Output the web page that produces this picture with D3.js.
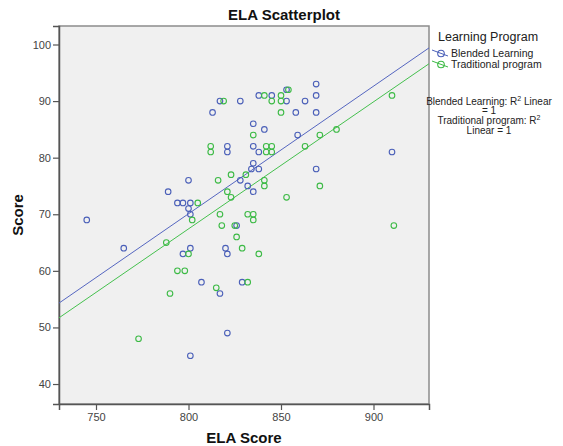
<!DOCTYPE html>
<html>
<head>
<meta charset="utf-8">
<script src="https://cdn.jsdelivr.net/npm/d3@7"></script>
<style>
  html, body { margin: 0; padding: 0; background: #fff; }
  svg { display: block; font-family: "Liberation Sans", Arial, sans-serif; }
</style>
</head>
<body>
<svg id="chart" width="563" height="446"></svg>
<script>
// ---- data ----
const blendedELA   = [817, 828, 813, 821, 821, 800, 789, 828, 832, 794, 797, 801, 800, 801, 826, 820, 821, 807, 829, 817, 821, 801, 745, 765, 838, 845, 853, 853, 863, 869, 869, 858, 869, 835, 841, 859, 835, 838, 835, 834, 838, 835, 869, 910, 797, 801];
const blendedScore = [90, 90, 88, 82, 81, 76, 74, 76, 75, 72, 72, 72, 71, 70, 68, 64, 63, 58, 58, 56, 49, 45, 69, 64, 91, 91, 90, 92, 90, 91, 93, 88, 88, 86, 85, 84, 82, 81, 79, 78, 78, 74, 78, 81, 63, 64];

const tradELA   = [819, 812, 812, 816, 823, 831, 821, 823, 805, 802, 817, 832, 835, 835, 818, 825, 826, 788, 829, 838, 794, 798, 832, 815, 790, 773, 841, 850, 845, 850, 854, 850, 910, 835, 871, 880, 842, 845, 842, 845, 863, 841, 841, 871, 853, 911, 800];
const tradScore = [90, 82, 81, 76, 77, 77, 74, 73, 72, 69, 70, 70, 70, 69, 68, 68, 66, 65, 64, 63, 60, 60, 58, 57, 56, 48, 91, 91, 90, 90, 92, 88, 91, 84, 84, 85, 82, 82, 81, 81, 82, 76, 75, 75, 73, 68, 63];

// fit lines: score at ELA = 730 and ELA = 930
const fitX       = [730, 930];
const blendedFit = [54.3, 99.4];
const tradFit    = [51.7, 96.6];

const xTicks = [750, 800, 850, 900];
const yTicks = [40, 50, 60, 70, 80, 90, 100];

const seriesNames = ["Blended Learning", "Traditional program"];
const seriesColors = ["#4a5fb8", "#3cba45"];

// ---- layout ----
const svg = d3.select("#chart");
const L = 59, R = 429, T = 26, B = 404;

const x = d3.scaleLinear().domain([730, 930]).range([L, R]);
const y = d3.scaleLinear().domain([36.47, 103.27]).range([B, T]);

// plot background
svg.append("rect")
  .attr("x", L).attr("y", T).attr("width", R - L).attr("height", B - T)
  .attr("fill", "#f0f0f0").attr("stroke", "#8c8c8c").attr("stroke-width", 1.5);

svg.append("defs").append("clipPath").attr("id", "clip")
  .append("rect").attr("x", L).attr("y", T).attr("width", R - L).attr("height", B - T);

// axes
const xAxis = svg.append("g").attr("transform", `translate(0,${B})`)
  .call(d3.axisBottom(x).tickValues(xTicks).tickSize(6).tickPadding(3).tickFormat(d3.format("d")));
const yAxis = svg.append("g").attr("transform", `translate(${L},0)`)
  .call(d3.axisLeft(y).tickValues(yTicks).tickSize(6).tickPadding(2).tickFormat(d3.format("d")));
[xAxis, yAxis].forEach(g => {
  g.select(".domain").attr("stroke", "#555").attr("stroke-width", 1.5);
  g.selectAll(".tick line").attr("stroke", "#555").attr("stroke-width", 1.2);
  g.selectAll(".tick text").attr("fill", "#444").attr("font-size", 11)
    .attr("font-family", "'Liberation Sans', Arial, sans-serif");
});

// fit lines
const plot = svg.append("g").attr("clip-path", "url(#clip)");
const line = d3.line().x(d => x(d[0])).y(d => y(d[1]));
plot.append("path").datum(fitX.map((v, i) => [v, blendedFit[i]]))
  .attr("d", line).attr("fill", "none").attr("stroke", "#5566c0").attr("stroke-width", 1);
plot.append("path").datum(fitX.map((v, i) => [v, tradFit[i]]))
  .attr("d", line).attr("fill", "none").attr("stroke", "#45c04e").attr("stroke-width", 1);

// points
function drawPoints(xs, ys, color) {
  plot.append("g").selectAll("circle")
    .data(xs.map((v, i) => [v, ys[i]]))
    .join("circle")
    .attr("cx", d => x(d[0])).attr("cy", d => y(d[1]))
    .attr("r", 2.8)
    .attr("fill", "none").attr("stroke", color).attr("stroke-width", 1.1);
}
drawPoints(blendedELA, blendedScore, seriesColors[0]);
drawPoints(tradELA, tradScore, seriesColors[1]);

// title and axis labels
svg.append("text").attr("x", 284).attr("y", 20).attr("text-anchor", "middle")
  .attr("font-size", 15).attr("font-weight", "bold").attr("fill", "#111").text("ELA Scatterplot");
svg.append("text").attr("x", (L + R) / 2).attr("y", 443).attr("text-anchor", "middle")
  .attr("font-size", 15).attr("font-weight", "bold").attr("fill", "#111").text("ELA Score");
svg.append("text").attr("transform", `translate(23,${(T + B) / 2}) rotate(-90)`)
  .attr("text-anchor", "middle").attr("font-size", 15).attr("font-weight", "bold")
  .attr("fill", "#111").text("Score");

// legend
svg.append("text").attr("x", 438).attr("y", 41).attr("font-size", 12.5).attr("fill", "#222")
  .text("Learning Program");
seriesNames.forEach((name, i) => {
  const cy = 53.5 + i * 11;
  const g = svg.append("g");
  g.append("line").attr("x1", 432).attr("y1", cy - 3.5).attr("x2", 448).attr("y2", cy + 2.5)
    .attr("stroke", seriesColors[i]).attr("stroke-width", 1);
  g.append("circle").attr("cx", 441).attr("cy", cy).attr("r", 3.3)
    .attr("fill", "none").attr("stroke", seriesColors[i]).attr("stroke-width", 1.1);
  g.append("text").attr("x", 451).attr("y", cy + 3.5).attr("font-size", 10.5).attr("fill", "#222")
    .text(name);
});

// R² annotations
const rLines = [
  [{t: "Blended Learning: R"}, {t: "2", sup: true}, {t: " Linear"}],
  [{t: "= 1"}],
  [{t: "Traditional program: R"}, {t: "2", sup: true}],
  [{t: "Linear = 1"}]
];
rLines.forEach((parts, i) => {
  const tx = svg.append("text").attr("x", 489).attr("y", 104.5 + i * 9.7)
    .attr("text-anchor", "middle").attr("font-size", 10).attr("fill", "#222");
  parts.forEach((p, j) => {
    const s = tx.append("tspan").text(p.t);
    if (p.sup) s.attr("font-size", 7).attr("dy", -3.5);
    else if (j > 0) s.attr("dy", 3.5);
  });
});
</script>
</body>
</html>
